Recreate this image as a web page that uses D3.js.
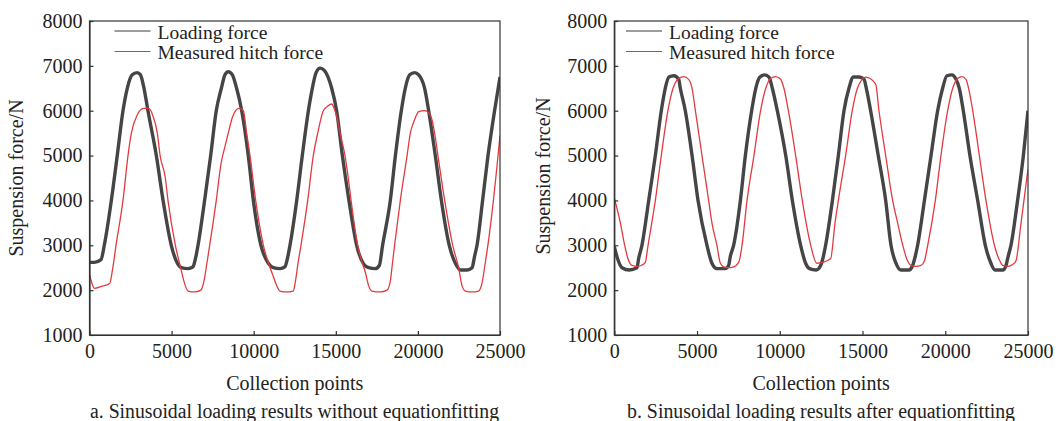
<!DOCTYPE html>
<html>
<head>
<meta charset="utf-8">
<script src="https://cdn.jsdelivr.net/npm/d3@7/dist/d3.min.js"></script>
<style>
  html, body { margin: 0; padding: 0; background: #fff; }
  svg { display: block; }
</style>
</head>
<body>
<svg id="chart" width="1056" height="421"></svg>
<script>
// ---------- DATA ----------
const xTicks = [0, 5000, 10000, 15000, 20000, 25000];
const yTicks = [1000, 2000, 3000, 4000, 5000, 6000, 7000, 8000];
const seriesNames = ["Loading force", "Measured hitch force"];
const captions = [
  "a. Sinusoidal loading results without equationfitting",
  "b. Sinusoidal loading results after equationfitting"
];
const xTitle = "Collection points";
const yTitle = "Suspension force/N";

// Panel a: loading force [collection point, force]
const loadA = [
  [0,2620],[300,2620],[700,2680],[900,3000],[1330,4000],[1690,5000],[2040,6000],[2300,6500],[2600,6800],[2900,6850],
  [3100,6800],[3320,6500],[3560,6000],[4070,5000],[4480,4000],[4980,3000],[5350,2600],[5600,2500],[6000,2480],[6300,2520],
  [6450,2700],[6610,3000],[7010,4000],[7380,5000],[7720,6000],[8030,6500],[8250,6800],[8450,6870],[8700,6800],[8960,6500],
  [9270,6000],[9670,5000],[9980,4000],[10440,3000],[10890,2600],[11200,2500],[11600,2480],[11900,2520],[12050,2700],[12210,3000],
  [12620,4000],[12960,5000],[13330,6000],[13570,6500],[13800,6850],[14050,6950],[14300,6900],[14750,6500],[15050,6000],[15400,5000],
  [15800,4000],[16270,3000],[16700,2580],[17000,2500],[17400,2480],[17650,2550],[17850,3000],[18320,4000],[18630,5000],[18990,6000],
  [19230,6500],[19500,6800],[19800,6850],[20050,6800],[20410,6500],[20655,6000],[21060,5000],[21430,4000],[21910,3000],[22280,2600],
  [22600,2450],[23000,2450],[23300,2500],[23450,2750],[23600,3000],[23940,4000],[24270,5000],[24670,6000],[25000,6750]
];
// Panel a: measured hitch force
const hitchA = [
  [0,2350],[150,2150],[315,2040],[700,2080],[1230,2150],[1400,2450],[1615,3000],[2040,4000],[2345,5000],[2550,5500],
  [2900,5900],[3300,6050],[3600,6050],[3850,5900],[4130,5500],[4300,5000],[4620,4500],[4780,4000],[5230,3000],[5550,2500],
  [5750,2200],[6000,1980],[6400,1960],[6790,2000],[6970,2200],[7150,2600],[7320,3000],[7720,4000],[8000,4800],[8250,5200],
  [8450,5500],[8700,5850],[8900,6000],[9100,6050],[9370,6000],[9570,5500],[9775,5000],[10120,4000],[10590,3000],[11000,2500],
  [11200,2300],[11400,2100],[11600,1980],[12000,1960],[12410,1980],[12520,2150],[12700,2600],[12880,3000],[13290,4000],[13630,5000],
  [13900,5500],[14240,6000],[14500,6100],[14750,6150],[14900,6050],[15100,5800],[15260,5500],[15560,5000],[15760,4500],[15930,4000],
  [16330,3000],[16620,2600],[16800,2400],[17000,2100],[17200,1980],[17700,1960],[18120,2000],[18320,2200],[18450,2600],[18580,3000],
  [18930,4000],[19340,5000],[19540,5500],[19800,5800],[20050,5980],[20400,6000],[20760,5900],[21020,5500],[21220,5000],[21630,4000],
  [22120,3000],[22480,2500],[22685,2100],[22890,1980],[23300,1960],[23700,1980],[23900,2150],[24100,2600],[24300,3100],[24600,4000],
  [24800,4700],[25000,5450]
];
// Panel b: loading force
const loadB = [
  [0,2970],[200,2700],[465,2500],[900,2450],[1370,2500],[1470,2700],[1670,3000],[2080,4000],[2480,5000],[2840,6000],
  [3080,6500],[3300,6750],[3600,6780],[3890,6700],[3990,6500],[4290,6000],[4700,5000],[5060,4000],[5600,3000],[5900,2600],
  [6200,2480],[6700,2480],[6910,2550],[7010,2750],[7210,3000],[7620,4000],[7920,5000],[8300,6000],[8550,6500],[8800,6750],
  [9100,6800],[9350,6750],[9550,6500],[9850,6000],[10360,5000],[10760,4000],[11260,3000],[11560,2600],[11800,2480],[12200,2450],
  [12470,2550],[12600,2700],[12770,3000],[13180,4000],[13540,5000],[13880,6000],[14180,6500],[14450,6750],[14800,6750],[15090,6700],
  [15230,6500],[15490,6000],[15950,5000],[16400,4000],[16720,3000],[17020,2600],[17300,2450],[17800,2450],[18030,2550],[18150,2700],
  [18330,3000],[18740,4000],[19140,5000],[19540,6000],[19840,6500],[20100,6780],[20400,6800],[20650,6700],[20850,6500],[21090,6000],
  [21490,5000],[21960,4000],[22420,3000],[22760,2600],[23000,2450],[23500,2450],[23670,2550],[23800,2750],[23970,3000],[24370,4000],
  [24720,5000],[25000,6000]
];
// Panel b: measured hitch force
const hitchB = [
  [0,4050],[365,3500],[626,3000],[828,2700],[1070,2550],[1400,2530],[1680,2560],[1875,2620],[2040,3000],[2480,4000],
  [2840,5000],[3240,6000],[3550,6500],[3890,6720],[4200,6760],[4490,6700],[4700,6500],[4900,6000],[5300,5000],[5700,4000],
  [5900,3500],[6200,3000],[6410,2600],[6610,2520],[6900,2500],[7210,2520],[7520,2620],[7720,3000],[8020,4000],[8440,5000],
  [8840,6000],[9150,6500],[9450,6720],[9750,6760],[10050,6700],[10250,6500],[10520,6000],[10960,5000],[11360,4000],[11870,3000],
  [12230,2600],[13070,2700],[13340,3500],[13540,4000],[13980,5000],[14380,6000],[14690,6500],[15190,6750],[15790,6600],[15995,6000],
  [16400,5000],[16820,4000],[17120,3500],[17430,3000],[17670,2700],[17930,2550],[18230,2530],[18530,2550],[18740,2650],[18940,3000],
  [19400,4000],[19740,5000],[20145,6000],[20450,6500],[20750,6720],[21000,6760],[21250,6700],[21410,6500],[21660,6000],[22060,5000],
  [22460,4000],[22970,3000],[23370,2600],[23470,2550],[23800,2530],[24070,2570],[24270,2650],[24580,3500],[25000,4700]
];

// ---------- DRAW ----------
const FONT = "'Liberation Serif', serif";
const svg = d3.select("#chart");
const red = "#e23a3f";

const panels = [
  { left: 89.5, right: 500, load: loadA, hitch: hitchA, caption: captions[0], capX: 90, capW: 409, yTitleX: 23, yTitleY: 178, legX: 114.5 },
  { left: 614.3, right: 1028, load: loadB, hitch: hitchB, caption: captions[1], capX: 627, capW: 388, yTitleX: 550, yTitleY: 176, legX: 626 }
];
const plotTop = 21, plotBottom = 335;

panels.forEach(p => {
  const x = d3.scaleLinear().domain([0, 25000]).range([p.left, p.right]);
  const y = d3.scaleLinear().domain([1000, 8000]).range([plotBottom, plotTop]);
  const g = svg.append("g");

  const clipId = "clip" + Math.round(p.left);
  svg.append("clipPath").attr("id", clipId).append("rect")
    .attr("x", p.left).attr("y", plotTop).attr("width", p.right - p.left).attr("height", plotBottom - plotTop);

  const line = d3.line().x(d => x(d[0])).y(d => y(d[1])).curve(d3.curveMonotoneX);
  const plot = g.append("g").attr("clip-path", `url(#${clipId})`);
  // loading force (noisy signal shown as a wide dark band)
  plot.append("path").datum(p.load).attr("d", line)
    .attr("fill", "none").attr("stroke", "#454545").attr("stroke-width", 3.4).attr("stroke-linejoin", "round");
  // measured hitch force
  plot.append("path").datum(p.hitch).attr("d", line)
    .attr("fill", "none").attr("stroke", red).attr("stroke-width", 1.3).attr("stroke-linejoin", "round");

  // frame
  g.append("rect").attr("x", p.left).attr("y", plotTop)
    .attr("width", p.right - p.left).attr("height", plotBottom - plotTop)
    .attr("fill", "none").attr("stroke", "#333").attr("stroke-width", 1.2);

  // axes
  const xAxis = d3.axisBottom(x).tickValues(xTicks).tickSizeInner(-4).tickSizeOuter(0).tickPadding(9)
    .tickFormat(d3.format("d"));
  const gx = g.append("g").attr("transform", `translate(0,${plotBottom})`).call(xAxis);
  const yAxis = d3.axisLeft(y).tickValues(yTicks).tickSizeInner(-4).tickSizeOuter(0).tickPadding(7)
    .tickFormat(d3.format("d"));
  const gy = g.append("g").attr("transform", `translate(${p.left},0)`).call(yAxis);
  [gx, gy].forEach(a => {
    a.attr("font-family", FONT).attr("font-size", 20);
    a.select(".domain").attr("stroke", "#333").attr("stroke-width", 1.2);
    a.selectAll(".tick line").attr("stroke", "#333").attr("stroke-width", 1.2);
    a.selectAll(".tick text").attr("fill", "#222").attr("font-family", FONT).attr("font-size", 20);
  });

  // titles
  const cx = (p.left + p.right) / 2;
  g.append("text").attr("x", cx).attr("y", 390).attr("text-anchor", "middle")
    .attr("font-family", FONT).attr("font-size", 20).attr("fill", "#222").text(xTitle);
  g.append("text").attr("transform", `translate(${p.yTitleX},${p.yTitleY}) rotate(-90)`)
    .attr("text-anchor", "middle").attr("font-family", FONT).attr("font-size", 20).attr("fill", "#222").text(yTitle);
  g.append("text").attr("x", p.capX).attr("y", 418)
    .attr("textLength", p.capW).attr("lengthAdjust", "spacingAndGlyphs")
    .attr("font-family", FONT).attr("font-size", 20).attr("fill", "#222").text(p.caption);

  // legend
  const legY = [31, 51.5], legBase = [39, 59];
  seriesNames.forEach((n, i) => {
    g.append("line").attr("x1", p.legX).attr("x2", p.legX + 36).attr("y1", legY[i]).attr("y2", legY[i])
      .attr("stroke", i === 0 ? "#3c3c3c" : red).attr("stroke-width", 1.2);
    g.append("text").attr("x", p.legX + 43).attr("y", legBase[i])
      .attr("font-family", FONT).attr("font-size", 19.5).attr("fill", "#222").text(n);
  });
});
</script>
</body>
</html>
